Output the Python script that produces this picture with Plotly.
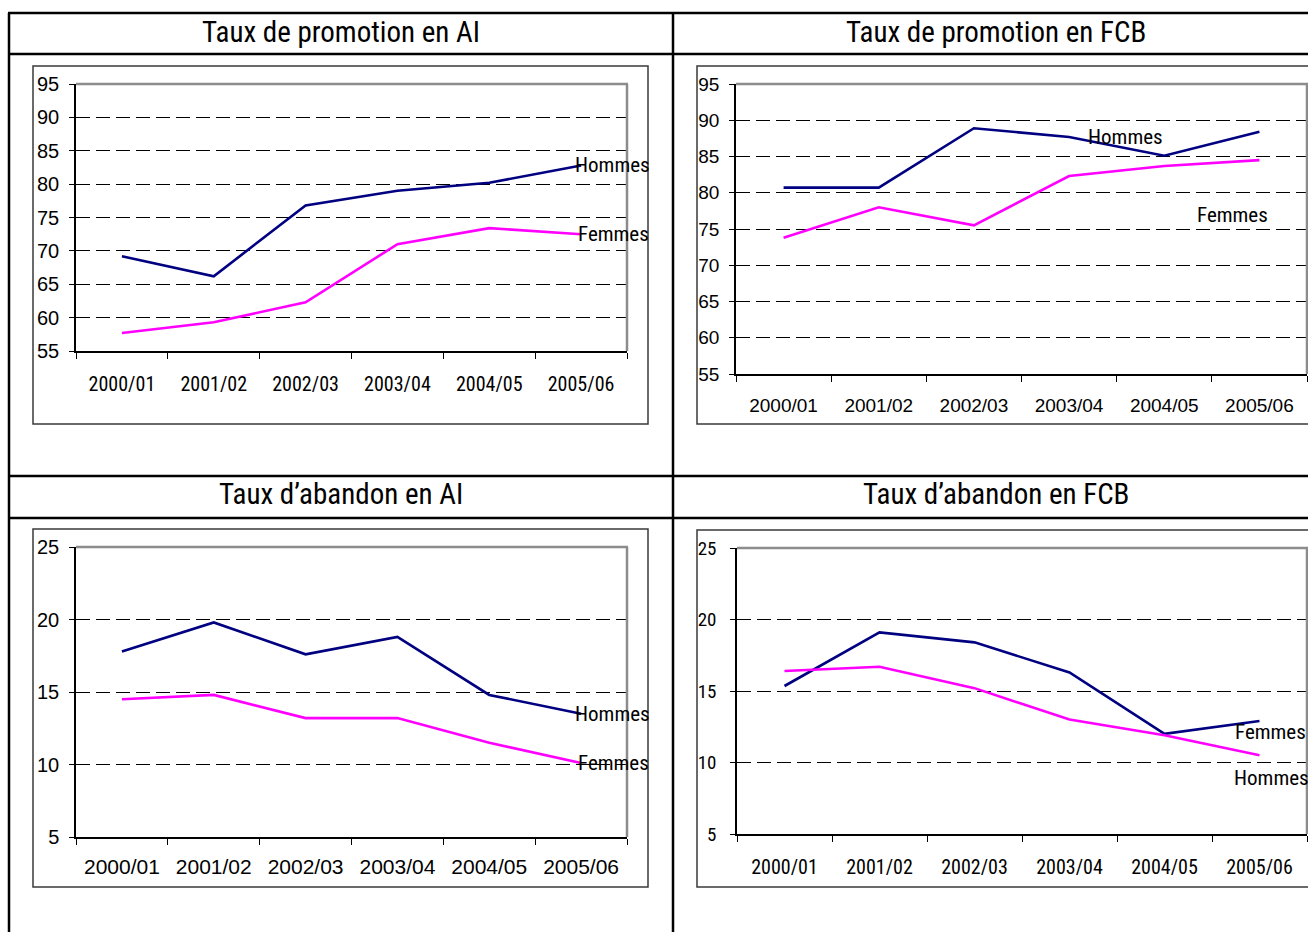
import plotly.graph_objects as go

W, H = 1308, 932

categories = ["2000/01", "2001/02", "2002/03", "2003/04", "2004/05", "2005/06"]

promo_ai_hommes = [69.2, 66.2, 76.8, 79.0, 80.2, 82.8]
promo_ai_femmes = [57.7, 59.3, 62.3, 71.0, 73.4, 72.5]

promo_fcb_hommes = [80.7, 80.7, 88.9, 87.7, 85.1, 88.4]
promo_fcb_femmes = [73.8, 78.0, 75.5, 82.3, 83.7, 84.5]

aband_ai_hommes = [17.8, 19.8, 17.6, 18.8, 14.8, 13.5]
aband_ai_femmes = [14.5, 14.8, 13.2, 13.2, 11.5, 10.1]

aband_fcb_hommes = [15.35, 19.1, 18.4, 16.3, 12.0, 12.9]
aband_fcb_femmes = [16.4, 16.7, 15.2, 13.0, 11.9, 10.5]

titles = ["Taux de promotion en AI", "Taux de promotion en FCB",
          "Taux d\u2019abandon en AI", "Taux d\u2019abandon en FCB"]

NAVY = "#000080"
MAGENTA = "#FF00FF"
NARROW = "Roboto Condensed, Liberation Sans Narrow, Arial Narrow, sans-serif"
ARIAL = "Liberation Sans, Arial, sans-serif"


def px(x):
    return x / W


def py(y):
    return 1 - y / H


fig = go.Figure()

# panels: (hommes, femmes, plot box px (x0, x1, ytop, ybottom), y range, xfont, yfont,
#          y label standoff, x label standoff)
panels = [
    (promo_ai_hommes, promo_ai_femmes, (76, 627, 84, 351), [55, 95],
     dict(family=NARROW, size=20, color="black"), dict(family=ARIAL, size=20, color="black"), 6, 14),
    (promo_fcb_hommes, promo_fcb_femmes, (736, 1307, 84, 374), [55, 95],
     dict(family=ARIAL, size=19, color="black"), dict(family=ARIAL, size=19, color="black"), 6, 13),
    (aband_ai_hommes, aband_ai_femmes, (76, 627, 547, 837), [5, 25],
     dict(family=ARIAL, size=21, color="black"), dict(family=ARIAL, size=20, color="black"), 6, 10),
    (aband_fcb_hommes, aband_fcb_femmes, (737, 1307, 548, 834), [5, 25],
     dict(family=NARROW, size=20, color="black"), dict(family=NARROW, size=19, color="black"), 10, 14),
]

shapes = []
layout_axes = {}
for i, (hom, fem, box, yr, xfont, yfont, ystand, xstand) in enumerate(panels):
    n = i + 1
    xa = "x" if n == 1 else f"x{n}"
    ya = "y" if n == 1 else f"y{n}"
    xkey = "xaxis" if n == 1 else f"xaxis{n}"
    ykey = "yaxis" if n == 1 else f"yaxis{n}"
    x0, x1, yt, yb = box
    fig.add_trace(go.Scatter(x=categories, y=hom, mode="lines", xaxis=xa, yaxis=ya,
                             line=dict(color=NAVY, width=2.6), name="Hommes", showlegend=False))
    fig.add_trace(go.Scatter(x=categories, y=fem, mode="lines", xaxis=xa, yaxis=ya,
                             line=dict(color=MAGENTA, width=2.6), name="Femmes", showlegend=False))
    layout_axes[xkey] = dict(
        domain=[px(x0), px(x1)], anchor=ya, type="category", range=[-0.5, 5.5],
        showgrid=False, showline=True, linecolor="black", linewidth=1.5,
        ticks="outside", tickson="boundaries", ticklen=6, tickcolor="black",
        tickfont=xfont, ticklabelstandoff=xstand, fixedrange=True, automargin=False,
    )
    layout_axes[ykey] = dict(
        domain=[py(yb), py(yt)], anchor=xa, range=yr, dtick=5, tick0=0,
        showgrid=True, gridcolor="black", gridwidth=1, griddash="14px,6px",
        showline=True, linecolor="black", linewidth=1.5,
        ticks="outside", ticklen=5, tickcolor="black",
        tickfont=yfont, ticklabelstandoff=ystand, zeroline=False, fixedrange=True,
        automargin=False,
    )
    # gray top and right borders of plot area
    shapes.append(dict(type="line", xref="paper", yref="paper", x0=px(x0), x1=px(x1 + 1),
                       y0=py(yt), y1=py(yt), line=dict(color="#8c8c8c", width=2.5)))
    shapes.append(dict(type="line", xref="paper", yref="paper", x0=px(x1), x1=px(x1),
                       y0=py(yt), y1=py(yb), line=dict(color="#8c8c8c", width=2.5)))

# chart frames
frames = [(33, 66, 648, 424), (697, 66, 1312, 424), (33, 529, 648, 887), (697, 530, 1312, 887)]
for (fx0, fy0, fx1, fy1) in frames:
    shapes.append(dict(type="rect", xref="paper", yref="paper", x0=px(fx0), x1=px(fx1),
                       y0=py(fy1), y1=py(fy0), line=dict(color="#3a3a3a", width=1.5),
                       layer="below"))

# table lines
for yy in [13, 54, 476, 518]:
    shapes.append(dict(type="line", xref="paper", yref="paper", x0=px(8), x1=px(1308),
                       y0=py(yy), y1=py(yy), line=dict(color="black", width=2.5)))
for xx in [9, 673]:
    shapes.append(dict(type="line", xref="paper", yref="paper", x0=px(xx), x1=px(xx),
                       y0=py(13), y1=py(932), line=dict(color="black", width=2.5)))

annotations = []
title_pos = [(341, 32), (996, 32), (341, 494), (996, 494)]
for t, (tx, ty) in zip(titles, title_pos):
    annotations.append(dict(text=t, xref="paper", yref="paper", x=px(tx), y=py(ty),
                            xanchor="center", yanchor="middle", showarrow=False,
                            font=dict(family=NARROW, size=29, color="black")))

series_labels = [
    ("Hommes", 573, 165), ("Femmes", 576, 234),
    ("Hommes", 1086, 137), ("Femmes", 1195, 215),
    ("Hommes", 573, 714), ("Femmes", 576, 763),
    ("Femmes", 1233, 732), ("Hommes", 1232, 778),
]
for t, lx, ly in series_labels:
    annotations.append(dict(text=t, xref="paper", yref="paper", x=px(lx), y=py(ly),
                            xanchor="left", yanchor="middle", showarrow=False,
                            font=dict(family=NARROW, size=21, color="black")))

fig.update_layout(
    width=W, height=H, autosize=False,
    margin=dict(l=0, r=0, t=0, b=0, pad=0, autoexpand=False),
    paper_bgcolor="white", plot_bgcolor="white",
    shapes=shapes, annotations=annotations, showlegend=False,
    **layout_axes,
)

fig.write_html("out.html", config={"displayModeBar": False},
               post_script="document.body.style.margin='0';document.body.style.overflow='hidden';")
